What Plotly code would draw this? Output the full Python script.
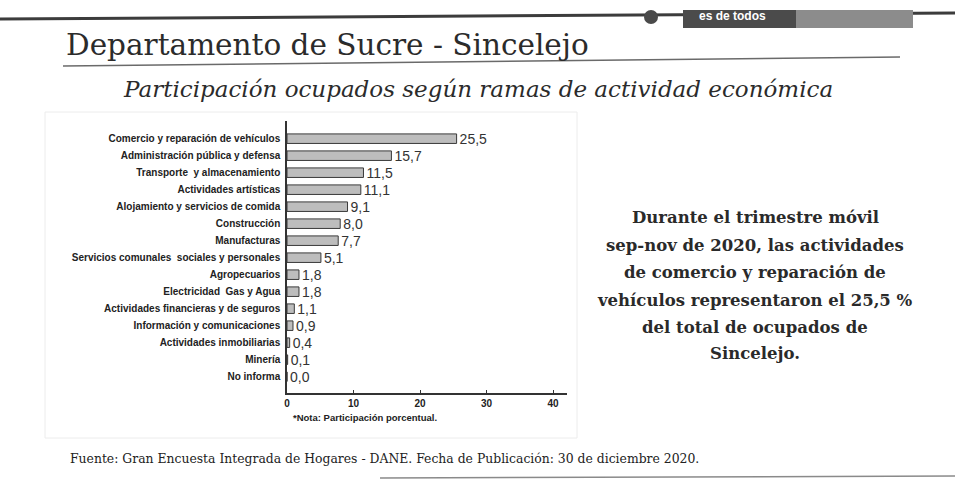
import plotly.graph_objects as go

# ---------------- data ----------------
categories = [
    "Comercio y reparación de vehículos",
    "Administración pública y defensa",
    "Transporte  y almacenamiento",
    "Actividades artísticas",
    "Alojamiento y servicios de comida",
    "Construcción",
    "Manufacturas",
    "Servicios comunales  sociales y personales",
    "Agropecuarios",
    "Electricidad  Gas y Agua",
    "Actividades financieras y de seguros",
    "Información y comunicaciones",
    "Actividades inmobiliarias",
    "Minería",
    "No informa",
]
values = [25.5, 15.7, 11.5, 11.1, 9.1, 8.0, 7.7, 5.1, 1.8, 1.8, 1.1, 0.9, 0.4, 0.1, 0.0]
x_ticks = [0, 10, 20, 30, 40]

title_text = "Departamento de Sucre - Sincelejo"
subtitle_text = "Participación ocupados según ramas de actividad económica"
side_lines = [
    "Durante el trimestre móvil",
    "sep-nov de 2020, las actividades",
    "de comercio y reparación de",
    "vehículos representaron el 25,5 %",
    "del total de ocupados de",
    "Sincelejo.",
]
note_text = "*Nota: Participación porcentual."
source_text = "Fuente: Gran Encuesta Integrada de Hogares - DANE. Fecha de Publicación: 30 de diciembre 2020."

# ---------------- layout geometry (pixels) ----------------
W, H = 955, 489
ML, MR, MT, MB = 287, 388, 121, 96
PW = W - ML - MR
PH = H - MT - MB


def px(x):
    return (x - ML) / PW


def py(y):
    return (H - MB - y) / PH


fig = go.Figure()
fig.add_trace(go.Bar(
    y=categories,
    x=values,
    orientation="h",
    width=0.56,
    marker=dict(color="#bdbdbd", line=dict(color="#3a3a3a", width=1)),
    texttemplate="%{x:.1f}",
    textposition="outside",
    constraintext="none",
    textfont=dict(family="Liberation Sans, Arial", size=14, color="#333333"),
    cliponaxis=False,
    hoverinfo="skip",
))

shapes = []
# top rule (slightly tilted as in the scanned slide)
shapes.append(dict(type="line", xref="paper", yref="paper",
                   x0=px(0), y0=py(19), x1=px(955), y1=py(13),
                   line=dict(color="#3c3c3c", width=3)))
# banner boxes at top right
shapes.append(dict(type="rect", xref="paper", yref="paper",
                   x0=px(683), y0=py(28), x1=px(796), y1=py(10),
                   fillcolor="#4b4b4b", line=dict(width=0)))
shapes.append(dict(type="rect", xref="paper", yref="paper",
                   x0=px(796), y0=py(28), x1=px(913), y1=py(10),
                   fillcolor="#8c8c8c", line=dict(width=0)))
# small emblem
shapes.append(dict(type="circle", xref="paper", yref="paper",
                   x0=px(644), y0=py(24), x1=px(658), y1=py(10),
                   fillcolor="#4a4a4a", line=dict(width=0)))
# title underline
shapes.append(dict(type="line", xref="paper", yref="paper",
                   x0=px(63), y0=py(66), x1=px(900), y1=py(57),
                   line=dict(color="#6a6a6a", width=1.5)))
# faint frame around chart image
shapes.append(dict(type="rect", xref="paper", yref="paper",
                   x0=px(45), y0=py(438), x1=px(577), y1=py(112),
                   line=dict(color="#ececec", width=1)))
# bottom rule
shapes.append(dict(type="line", xref="paper", yref="paper",
                   x0=px(380), y0=py(478), x1=px(955), y1=py(476),
                   line=dict(color="#8a8a8a", width=1.5)))

annotations = []
annotations.append(dict(text="es de todos", xref="paper", yref="paper",
                        x=px(697), y=py(16), xanchor="left", yanchor="middle",
                        showarrow=False,
                        font=dict(family="Liberation Sans, Arial", size=12, color="#ffffff", weight="bold")))
annotations.append(dict(text=title_text, xref="paper", yref="paper",
                        x=px(64), y=py(45), xanchor="left", yanchor="middle",
                        showarrow=False,
                        font=dict(family="DejaVu Serif", size=29.5, color="#2b2b2b")))
annotations.append(dict(text="<i>" + subtitle_text + "</i>", xref="paper", yref="paper",
                        x=px(478), y=py(89), xanchor="center", yanchor="middle",
                        showarrow=False,
                        font=dict(family="DejaVu Serif", size=23, color="#2b2b2b")))
side_y = [217, 245, 272, 300, 327, 353]
for line, yy in zip(side_lines, side_y):
    annotations.append(dict(text=line, xref="paper", yref="paper",
                            x=px(755), y=py(yy), xanchor="center", yanchor="middle",
                            showarrow=False,
                            font=dict(family="DejaVu Serif", size=16.5, color="#2a2a2a", weight="bold")))
annotations.append(dict(text=note_text, xref="paper", yref="paper",
                        x=px(291), y=py(417), xanchor="left", yanchor="middle",
                        showarrow=False,
                        font=dict(family="Liberation Sans, Arial", size=9.5, color="#222222", weight="bold")))
annotations.append(dict(text=source_text, xref="paper", yref="paper",
                        x=px(68), y=py(458), xanchor="left", yanchor="middle",
                        showarrow=False,
                        font=dict(family="DejaVu Serif", size=12.4, color="#222222")))

fig.update_layout(
    width=W, height=H,
    margin=dict(l=ML, r=MR, t=MT, b=MB, pad=0),
    paper_bgcolor="#ffffff",
    plot_bgcolor="#ffffff",
    separators=",.",
    showlegend=False,
    shapes=shapes,
    annotations=annotations,
    xaxis=dict(
        range=[0, 42.1],
        tickmode="array", tickvals=x_ticks, ticktext=[str(t) for t in x_ticks],
        showgrid=False, zeroline=False,
        showline=True, linecolor="#333333", linewidth=1.5,
        ticks="inside", ticklen=3, tickcolor="#333333",
        tickfont=dict(family="Liberation Sans, Arial", size=10, color="#222222", weight="bold"),
    ),
    yaxis=dict(
        type="category",
        categoryorder="array", categoryarray=categories,
        range=[14.96, -1.04],
        showgrid=False, zeroline=False,
        showline=True, linecolor="#333333", linewidth=1.5,
        ticks="", ticklabelstandoff=3,
        tickfont=dict(family="Liberation Sans, Arial", size=10, color="#222222", weight="bold"),
    ),
)

fig.write_html("out.html", config={"displayModeBar": False},
               post_script="document.body.style.margin='0px';")
